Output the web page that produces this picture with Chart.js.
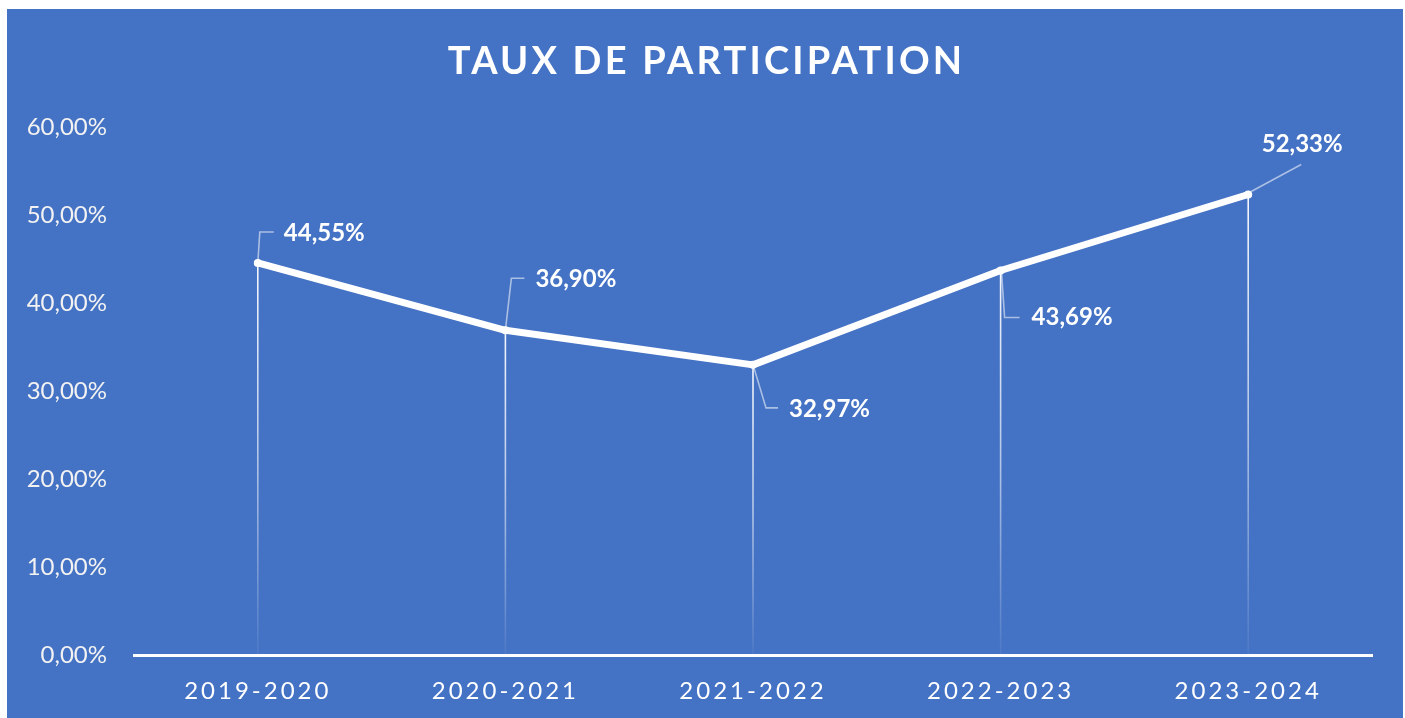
<!DOCTYPE html>
<html>
<head>
<meta charset="utf-8">
<script src="https://cdn.jsdelivr.net/npm/chart.js@4.4.1/dist/chart.umd.min.js"></script>
<style>
  html, body { margin: 0; padding: 0; background: #ffffff; width: 1405px; height: 718px; overflow: hidden; }
  #wrap { position: absolute; left: 7px; top: 9px; width: 1396px; height: 709px; background: #4472C4; }
  canvas { display: block; }
</style>
</head>
<body>
<div id="wrap"><canvas id="c" width="1396" height="709"></canvas></div>
<script>
// ---- data ----
const categories = ['2019-2020', '2020-2021', '2021-2022', '2022-2023', '2023-2024'];
const participation = [44.55, 36.90, 32.97, 43.69, 52.33];
const yTickValues = [0, 10, 20, 30, 40, 50, 60];
const chartTitle = 'TAUX DE PARTICIPATION';

// ---- label placement (style only, offsets from the point in px) ----
const labelLayout = [
  { leader: [[0, 0], [2, -31], [16, -31]], tx: 26, ty: -30, align: 'left' },
  { leader: [[0, 0], [6, -52], [19, -52]], tx: 30, ty: -51, align: 'left' },
  { leader: [[1, 3], [13, 43], [25, 43]], tx: 36, ty: 44, align: 'left' },
  { leader: [[1, 3], [4, 47], [19, 47]], tx: 31, ty: 47, align: 'left' },
  { leader: [[3, -3], [53, -30]], tx: 54, ty: -50, align: 'center' }
];

const fmt = v => v.toFixed(2).replace('.', ',') + '%';

const dropLines = {
  id: 'dropLines',
  beforeDatasetsDraw(chart) {
    const ctx = chart.ctx;
    const meta = chart.getDatasetMeta(0);
    const bottom = chart.scales.y.getPixelForValue(0);
    ctx.save();
    meta.data.forEach(pt => {
      const g = ctx.createLinearGradient(0, pt.y, 0, bottom);
      g.addColorStop(0, 'rgba(255,255,255,0.95)');
      g.addColorStop(0.5, 'rgba(255,255,255,0.6)');
      g.addColorStop(1, 'rgba(255,255,255,0.05)');
      ctx.strokeStyle = g;
      ctx.lineWidth = 1.6;
      ctx.beginPath();
      ctx.moveTo(pt.x, pt.y);
      ctx.lineTo(pt.x, bottom);
      ctx.stroke();
    });
    ctx.restore();
  }
};

const dataLabels = {
  id: 'dataLabels',
  afterDatasetsDraw(chart) {
    const ctx = chart.ctx;
    const meta = chart.getDatasetMeta(0);
    ctx.save();
    meta.data.forEach((pt, i) => {
      const L = labelLayout[i];
      ctx.strokeStyle = 'rgba(255,255,255,0.55)';
      ctx.lineWidth = 1.6;
      ctx.beginPath();
      L.leader.forEach((p, k) => {
        if (k === 0) ctx.moveTo(pt.x + p[0], pt.y + p[1]);
        else ctx.lineTo(pt.x + p[0], pt.y + p[1]);
      });
      ctx.stroke();
      ctx.fillStyle = '#ffffff';
      ctx.font = 'bold 24px Lato';
      ctx.textAlign = L.align;
      ctx.textBaseline = 'middle';
      ctx.fillText(fmt(participation[i]), pt.x + L.tx, pt.y + L.ty);
    });
    ctx.restore();
  }
};

const titleText = {
  id: 'titleText',
  afterDraw(chart) {
    const ctx = chart.ctx;
    ctx.save();
    ctx.font = 'bold 38px Lato';
    ctx.letterSpacing = '3.2px';
    ctx.fillStyle = '#ffffff';
    ctx.textAlign = 'left';
    ctx.textBaseline = 'middle';
    const w = ctx.measureText(chartTitle).width - 3.2;
    ctx.fillText(chartTitle, chart.width / 2 - w / 2, 53);
    ctx.restore();
  }
};

const spacing = {
  id: 'spacing',
  beforeDraw(chart) {
    const ctx = chart.ctx;
    const xs = chart.scales.x;
    if (xs && !xs._spPatched) {
      const orig = xs.drawLabels;
      xs.drawLabels = function (area) {
        ctx.save();
        ctx.letterSpacing = '3px';
        orig.call(this, area);
        ctx.restore();
      };
      xs._spPatched = true;
    }
  }
};

function build() {
  new Chart(document.getElementById('c'), {
    type: 'line',
    data: {
      labels: categories,
      datasets: [{
        data: participation,
        borderColor: '#ffffff',
        backgroundColor: '#ffffff',
        borderWidth: 7,
        pointRadius: 4,
        pointBorderWidth: 0,
        pointBackgroundColor: '#ffffff',
        tension: 0,
        borderJoinStyle: 'round',
        borderCapStyle: 'round'
      }]
    },
    options: {
      responsive: false,
      devicePixelRatio: 1,
      animation: false,
      layout: { padding: { left: 0, right: 31, top: 118, bottom: 0 } },
      plugins: {
        legend: { display: false },
        tooltip: { enabled: false },
        title: { display: false }
      },
      scales: {
        x: {
          type: 'category',
          offset: true,
          grid: { display: false, drawTicks: false },
          border: { display: true, color: '#ffffff', width: 3 },
          ticks: { color: '#ffffff', font: { family: 'Lato', size: 24 }, padding: 22, maxRotation: 0, autoSkip: false },
          afterFit(s) { s.height = 63; }
        },
        y: {
          min: 0,
          max: 60,
          afterBuildTicks(s) { s.ticks = yTickValues.map(v => ({ value: v })); },
          grid: { display: false, drawTicks: false },
          border: { display: false },
          ticks: { color: '#F2F2F2', font: { family: 'Lato', size: 24 }, padding: 27, callback: v => fmt(v) },
          afterFit(s) { s.width = 127; }
        }
      }
    },
    plugins: [spacing, dropLines, dataLabels, titleText]
  });
}

if (document.fonts && document.fonts.load) {
  Promise.all([
    document.fonts.load('24px Lato'),
    document.fonts.load('bold 24px Lato')
  ]).then(build, build);
} else {
  build();
}
</script>
</body>
</html>
